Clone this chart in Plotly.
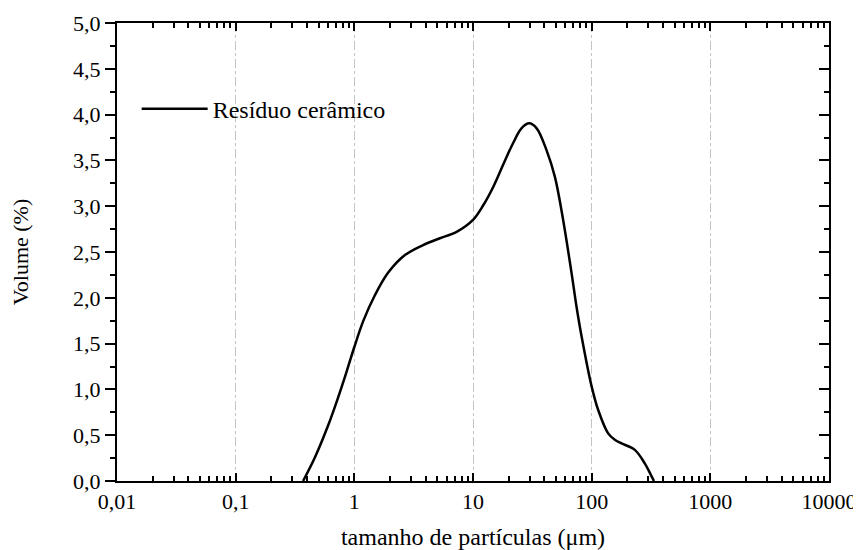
import plotly.graph_objects as go

# Particle size (µm) and volume (%)
size_um = [0.37, 0.466, 0.602, 0.731, 0.861, 1.0, 1.19, 1.49, 1.93, 2.67, 3.80, 5.26, 7.28,
           10.0, 12.2, 14.8, 17.9, 21.8, 25.6, 29.8, 34.4, 41.7, 49.0, 57.5, 67.7, 74.6,
           82.2, 100, 113.5, 137.7, 156.7, 178.6, 231, 281, 320, 335]
volume_pct = [0.0, 0.259, 0.608, 0.914, 1.195, 1.463, 1.748, 2.028, 2.275, 2.466, 2.576, 2.65, 2.72,
              2.85, 3.01, 3.21, 3.45, 3.69, 3.85, 3.905, 3.85, 3.61, 3.32, 2.85, 2.27, 1.90,
              1.58, 1.03, 0.775, 0.52, 0.45, 0.41, 0.34, 0.19, 0.05, 0.0]
series_name = "Resíduo cerâmico"

FONT = "Liberation Serif, Times New Roman, serif"

fig = go.Figure()
fig.add_trace(go.Scatter(
    x=size_um, y=volume_pct, mode="lines", name=series_name,
    line=dict(color="black", width=2.5, shape="spline", smoothing=1.0),
))
# invisible helper trace so the right-hand mirror axis is drawn
fig.add_trace(go.Scatter(x=[1], y=[0], yaxis="y2", mode="markers",
                         marker=dict(opacity=0), showlegend=False, hoverinfo="skip"))

fig.update_layout(
    width=853, height=542,
    margin=dict(l=109, r=32, t=15, b=69, autoexpand=False),
    paper_bgcolor="white", plot_bgcolor="white",
    separators=", ",
    font=dict(family=FONT, color="black", size=22),
    showlegend=True,
    legend=dict(x=0.0276, y=0.812, xanchor="left", yanchor="middle",
                bgcolor="rgba(0,0,0,0)", font=dict(size=24, family=FONT),
                itemwidth=66),
    xaxis=dict(
        type="log", range=[-2, 4], dtick=1, tickformat="~g", automargin=False,
        showline=True, linecolor="black", linewidth=2, mirror="ticks",
        ticks="inside", ticklen=8, tickwidth=2, tickcolor="black",
        minor=dict(ticks="inside", ticklen=5, tickwidth=1.5, tickcolor="black",
                   dtick="D1", showgrid=False),
        showgrid=True, gridcolor="#c4c4c4", gridwidth=1, griddash="dashdot",
        zeroline=False,
        tickfont=dict(size=22, family=FONT),
        title=dict(text="tamanho de partículas (μm)", font=dict(size=24, family=FONT), standoff=16),
    ),
    yaxis=dict(
        range=[0, 5], dtick=0.5, tickformat=".1f", automargin=False,
        showline=True, linecolor="black", linewidth=2,
        ticks="outside", ticklen=10, tickwidth=2, tickcolor="black",
        minor=dict(ticks="outside", ticklen=5, tickwidth=1.5, tickcolor="black",
                   dtick=0.25, showgrid=False),
        showgrid=False, zeroline=False,
        tickfont=dict(size=22, family=FONT),
        title=dict(text="Volume (%)", font=dict(size=22, family=FONT), standoff=39),
    ),
    yaxis2=dict(
        overlaying="y", side="right", range=[0, 5], dtick=0.5, automargin=False,
        showline=True, linecolor="black", linewidth=2,
        ticks="inside", ticklen=10, tickwidth=2, tickcolor="black",
        minor=dict(ticks="inside", ticklen=5, tickwidth=1.5, tickcolor="black",
                   dtick=0.25, showgrid=False),
        showticklabels=False, showgrid=False, zeroline=False,
    ),
)

fig.write_html("out.html")
